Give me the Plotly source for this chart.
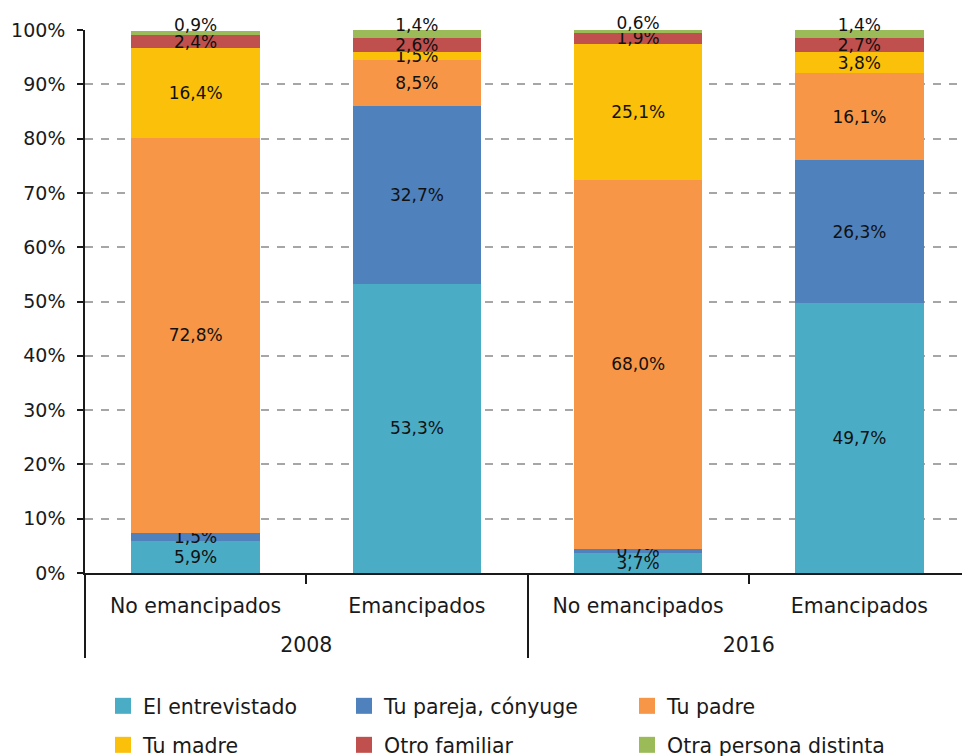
import plotly.graph_objects as go

years = ["2008", "2008", "2016", "2016"]
groups = ["No emancipados", "Emancipados", "No emancipados", "Emancipados"]

series_names = ["El entrevistado", "Tu pareja, cónyuge", "Tu padre",
                "Tu madre", "Otro familiar", "Otra persona distinta"]
el_entrevistado = [5.9, 53.3, 3.7, 49.7]
tu_pareja = [1.5, 32.7, 0.7, 26.3]
tu_padre = [72.8, 8.5, 68.0, 16.1]
tu_madre = [16.4, 1.5, 25.1, 3.8]
otro_familiar = [2.4, 2.6, 1.9, 2.7]
otra_persona = [0.9, 1.4, 0.6, 1.4]

y_ticks = [0, 10, 20, 30, 40, 50, 60, 70, 80, 90, 100]
y_tick_labels = [f"{v}%" for v in y_ticks]

series_values = [el_entrevistado, tu_pareja, tu_padre, tu_madre, otro_familiar, otra_persona]
colors = ["#4BACC6", "#4F81BD", "#F79646", "#FAC00A", "#C0504D", "#9BBB59"]

FONT = "DejaVu Sans, sans-serif"

# year labels pushed lower (empty leading line)
year_labels = ["<br>" + y for y in years]

fig = go.Figure()
for i, (name, vals, col) in enumerate(zip(series_names, series_values, colors)):
    last = i == len(series_names) - 1
    fig.add_trace(go.Bar(
        x=[year_labels, groups], y=vals, name=name,
        marker=dict(color=col, line=dict(width=0)),
        text=vals, texttemplate="%{y:.1f}%",
        textposition="inside",
        insidetextanchor="start" if last else "middle",
        constraintext="none", textangle=0, cliponaxis=False,
        textfont=dict(size=17, color="#111111", family=FONT),
        showlegend=False,
    ))

W, H = 962, 748  # page has an 8px body margin
legend_ids = ["legend", "legend2", "legend3", "legend4", "legend5", "legend6"]
col_left = [95, 336, 619]
row_center = [698, 737]
layout_legends = {}
for i, (name, col) in enumerate(zip(series_names, colors)):
    lid = legend_ids[i]
    fig.add_trace(go.Scatter(
        x=[None], y=[None], mode="markers", name=name,
        marker=dict(symbol="square", size=22, color=col),
        legend=lid, showlegend=True, hoverinfo="skip",
    ))
    c = i % 3
    r = i // 3
    layout_legends[lid] = dict(
        xref="container", yref="container",
        x=col_left[c] / W, y=1 - (row_center[r] - 20) / H,
        xanchor="left", yanchor="top",
        font=dict(size=20.5, color="#1a1a1a", family=FONT),
        bgcolor="rgba(0,0,0,0)", borderwidth=0,
        itemwidth=30,
    )

fig.update_layout(
    width=W, height=H,
    margin=dict(l=77, r=0, t=22, b=183, autoexpand=False),
    barmode="stack", bargap=0.42,
    separators=",.",
    plot_bgcolor="white", paper_bgcolor="white",
    font=dict(family=FONT, size=20, color="#1a1a1a"),
    **layout_legends,
)
fig.update_yaxes(
    range=[0, 100], tickmode="array", tickvals=y_ticks, ticktext=y_tick_labels,
    showgrid=True, gridcolor="#A6A6A6", griddash="8px,8px", gridwidth=1.5,
    showline=True, linecolor="#1a1a1a", linewidth=1.5,
    ticks="outside", ticklen=6, tickcolor="#1a1a1a", tickwidth=1.5,
    ticklabelstandoff=8,
    zeroline=False, tickfont=dict(size=19),
)
fig.update_xaxes(
    type="multicategory",
    showline=True, linecolor="#1a1a1a", linewidth=1.5,
    ticks="outside", ticklen=9, tickcolor="#1a1a1a", tickwidth=1.5,
    ticklabelstandoff=14,
    showdividers=True, dividercolor="#1a1a1a", dividerwidth=1.5,
    tickfont=dict(size=20.5),
)

fig.write_html("out.html")
